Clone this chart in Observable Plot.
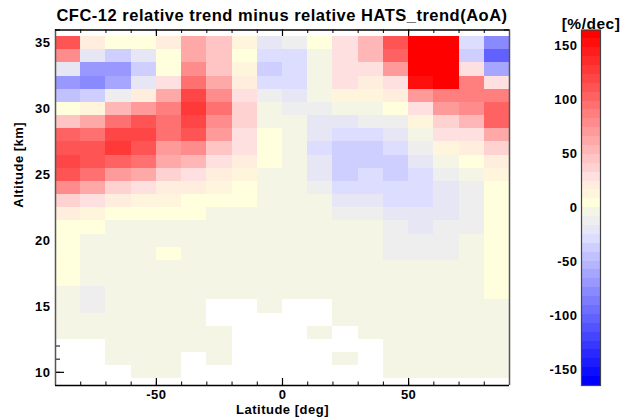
<!DOCTYPE html>
<html>
<head>
<meta charset="utf-8">
<script src="https://cdn.jsdelivr.net/npm/d3@7"></script>
<script src="https://cdn.jsdelivr.net/npm/@observablehq/plot@0.6"></script>
<style>
  body { margin: 0; background: #fff; }
  #chart { position: relative; width: 622px; height: 420px; overflow: hidden; background: #fff; }
  #chart svg { position: absolute; top: 0; overflow: visible; }
</style>
</head>
<body>
<div id="chart"></div>
<script>
// Latitude band centres (deg) and altitude levels (km, top row first)
const latitudes = [-85, -75, -65, -55, -45, -35, -25, -15, -5, 5, 15, 25, 35, 45, 55, 65, 75, 85];
const altitudes = [35, 34, 33, 32, 31, 30, 29, 28, 27, 26, 25, 24, 23, 22, 21, 20, 19, 18, 17, 16, 15, 14, 13, 12, 11, 10];

// Relative trend difference [%/dec]; null = no data
const trend = [
  [111, 21, 4, 4, 21, 61, 48, 12, -20, -12, 4, 30, 51, 111, 160, 160, -29, -80],
  [81, -20, -37, -20, 4, 61, 48, 4, -29, -29, -4, 30, 51, 101, 160, 160, -37, -100],
  [-20, -69, -69, -37, 4, 76, 48, 12, -37, -29, -4, 30, 30, 71, 160, 160, 30, -59],
  [-69, -80, -65, -20, 29, 91, 61, 21, -29, -29, -4, 27, 21, 30, 151, 160, 86, 30],
  [-45, -37, -12, 21, 61, 121, 81, 30, -12, -20, -4, 12, 12, 21, 71, 86, 86, 86],
  [4, 12, 51, 71, 86, 124, 91, 40, -4, -12, -12, -4, -4, 4, 30, 71, 76, 104],
  [48, 61, 91, 111, 91, 121, 81, 40, -4, -4, -20, -20, -12, -12, 12, 40, 51, 101],
  [101, 91, 118, 118, 91, 111, 71, 30, 4, -4, -20, -29, -29, -20, -4, 27, 30, 61],
  [114, 114, 128, 111, 71, 81, 48, 29, 4, -4, -29, -37, -37, -29, -12, 12, 21, 40],
  [118, 114, 104, 91, 61, 51, 30, 21, 4, -4, -20, -37, -37, -37, -20, -4, 4, 21],
  [111, 91, 71, 61, 40, 30, 21, 12, -4, -4, -20, -37, -29, -37, -29, -12, -4, 12],
  [76, 61, 40, 30, 21, 21, 12, 4, -4, -4, -12, -29, -29, -29, -29, -20, -12, 4],
  [40, 30, 21, 12, 12, 4, 4, 4, -4, -4, -4, -20, -20, -29, -29, -20, -12, 4],
  [21, 12, 4, 4, 4, 4, -4, -4, -4, -4, -4, -12, -12, -20, -20, -20, -12, 4],
  [4, 4, -4, -4, -4, -4, -4, -4, -4, -4, -4, -4, -4, -12, -20, -12, -12, 4],
  [4, -4, -4, -4, -4, -4, -4, -4, -4, -4, -4, -4, -4, -12, -12, -12, -4, 4],
  [4, -4, -4, -4, 4, -4, -4, -4, -4, -4, -4, -4, -4, -12, -12, -12, -4, 4],
  [4, -4, -4, -4, -4, -4, -4, -4, -4, -4, -4, -4, -4, -4, -4, -4, -4, 4],
  [4, -4, -4, -4, -4, -4, -4, -4, -4, -4, -4, -4, -4, -4, -4, -4, -4, 4],
  [-4, -12, -4, -4, -4, -4, -4, -4, -4, -4, -4, -4, -4, -4, -4, -4, -4, 4],
  [-4, -12, -4, -4, -4, -4, null, null, -4, null, null, -4, -4, -4, -4, -4, -4, -4],
  [-4, -4, -4, -4, -4, -4, null, null, null, null, null, -4, -4, -4, -4, -4, -4, -4],
  [-4, -4, -4, -4, -4, -4, -4, null, null, null, -4, null, -4, -4, -4, -4, -4, -4],
  [null, null, -4, -4, -4, -4, -4, null, null, null, null, null, null, -4, -4, -4, -4, -4],
  [null, null, -4, -4, -4, null, -4, null, null, null, null, -4, null, -4, -4, -4, -4, -4],
  [null, null, null, -4, -4, null, null, null, null, null, null, null, null, -4, -4, -4, -4, -4]
];

const latTicks = [-50, 0, 50];
const altTicks = [10, 15, 20, 25, 30, 35];
const colorbarTicks = [-150, -100, -50, 0, 50, 100, 150];

const title = "CFC-12 relative trend minus relative HATS_trend(AoA)";
const xLabel = "Latitude [deg]";
const yLabel = "Altitude [km]";
const unitLabel = "[%/dec]";

// ---- colour table: 40 discrete levels, blue - grey/yellow - red ----
const colorLimit = 165;
const nLevels = 40;
const half = nLevels / 2;
function levelColor(k, positive) {
  if (positive) {
    if (k === 0) return "#ffffdd";
    if (k === 1) return "#fff5dd";
    if (k === 2) return "#ffeedd";
    const c = Math.round(224 * (half - 1 - k) / (half - 4));
    return `rgb(255,${c},${c})`;
  }
  if (k === 0) return "#f5f5e5";
  if (k === 1) return "#eeeeee";
  if (k === 2) return "#e6e6f5";
  const c = Math.round(221 * (half - 1 - k) / (half - 4));
  return `rgb(${c},${c},255)`;
}
const step = 2 * colorLimit / nLevels;
const thresholds = d3.range(1, nLevels).map(i => -colorLimit + i * step);
const palette = d3.range(nLevels).map(i => i < half ? levelColor(half - 1 - i, false) : levelColor(i - half, true));
const colorScale = {type: "threshold", domain: thresholds, range: palette};

// ---- layout ----
const W = 622, H = 420;
const mL = 55, mR = 113, mT = 29.5, mB = 35;
const xDomain = [-90, 90];
const yDomain = [9, 36];
const kmPx = (H - mT - mB) / (yDomain[1] - yDomain[0]);
const degPx = (W - mL - mR) / (xDomain[1] - xDomain[0]);
const font = "'Liberation Sans', Arial, Helvetica, sans-serif";

const cells = altitudes.flatMap((alt, r) =>
  latitudes.map((lat, c) => ({lat, alt, value: trend[r][c]}))
).filter(d => d.value !== null);

const minorLat = d3.range(xDomain[0], xDomain[1] + 1, 10);
const minorAlt = d3.range(yDomain[0], yDomain[1] + 1, 1);

const textStyle = {fontFamily: font, fontWeight: "bold", fill: "#000"};
const svgStyle = {background: "transparent", fontFamily: font, letterSpacing: "0.5px", overflow: "visible"};

const main = Plot.plot({
  width: W,
  height: H,
  marginLeft: mL,
  marginRight: mR,
  marginTop: mT,
  marginBottom: mB,
  style: svgStyle,
  x: {domain: xDomain, axis: null},
  y: {domain: yDomain, axis: null},
  color: colorScale,
  marks: [
    // inward ticks on all four sides (cells are drawn over them)
    Plot.ruleX(minorLat, {x: d => d, y1: yDomain[0], y2: yDomain[0] + 3.5 / kmPx, stroke: "#000", strokeWidth: 1}),
    Plot.ruleX(latTicks, {x: d => d, y1: yDomain[0], y2: yDomain[0] + 7 / kmPx, stroke: "#000", strokeWidth: 1.2}),
    Plot.ruleX(minorLat, {x: d => d, y1: yDomain[1], y2: yDomain[1] - 3.5 / kmPx, stroke: "#000", strokeWidth: 1}),
    Plot.ruleX(latTicks, {x: d => d, y1: yDomain[1], y2: yDomain[1] - 7 / kmPx, stroke: "#000", strokeWidth: 1.2}),
    Plot.ruleY(minorAlt, {y: d => d, x1: xDomain[0], x2: xDomain[0] + 5 / degPx, stroke: "#000", strokeWidth: 1}),
    Plot.ruleY(altTicks, {y: d => d, x1: xDomain[0], x2: xDomain[0] + 9 / degPx, stroke: "#000", strokeWidth: 1.2}),
    Plot.ruleY(minorAlt, {y: d => d, x1: xDomain[1], x2: xDomain[1] - 5 / degPx, stroke: "#000", strokeWidth: 1}),
    Plot.ruleY(altTicks, {y: d => d, x1: xDomain[1], x2: xDomain[1] - 9 / degPx, stroke: "#000", strokeWidth: 1.2}),
    // gridded field
    Plot.rect(cells, {
      x1: d => d.lat - 5, x2: d => d.lat + 5,
      y1: d => d.alt - 0.5, y2: d => d.alt + 0.5,
      fill: "value",
      shapeRendering: "crispEdges"
    }),
    // plot box
    Plot.ruleX([xDomain[0], xDomain[1]], {x: d => d, stroke: "#555", strokeWidth: 1.5}),
    Plot.ruleY([yDomain[0], yDomain[1]], {y: d => d, stroke: "#000", strokeWidth: 1.6}),
    // tick labels
    Plot.text(latTicks, {x: d => d, text: d => String(d), frameAnchor: "bottom", dy: 13, fontSize: 13, ...textStyle}),
    Plot.text(altTicks, {y: d => d, text: d => String(d), frameAnchor: "left", dx: -5, textAnchor: "end", fontSize: 13, ...textStyle}),
    // axis titles
    Plot.text([xLabel], {text: d => d, frameAnchor: "bottom", dy: 28, fontSize: 13, ...textStyle}),
    Plot.text([yLabel], {text: d => d, frameAnchor: "left", dx: -37, rotate: -90, fontSize: 13, ...textStyle})
  ]
});
main.style.left = "0px";

// ---- colour bar ----
const cbLeft = 540;
const bands = d3.range(nLevels).map(i => ({lo: -colorLimit + i * step, hi: -colorLimit + (i + 1) * step}));
const colorbar = Plot.plot({
  width: W - cbLeft,
  height: H,
  marginLeft: 41,
  marginRight: 22,
  marginTop: mT,
  marginBottom: mB,
  style: svgStyle,
  y: {domain: [-colorLimit, colorLimit], axis: null},
  color: colorScale,
  marks: [
    Plot.rect(bands, {y1: "lo", y2: "hi", fill: d => (d.lo + d.hi) / 2, shapeRendering: "crispEdges"}),
    Plot.frame({stroke: "#444", strokeWidth: 1.2}),
    Plot.text(colorbarTicks, {y: d => d, text: d => String(d), frameAnchor: "left", dx: -4, textAnchor: "end", fontSize: 13, ...textStyle}),
    Plot.text([unitLabel], {text: d => d, frameAnchor: "top", dy: -12, fontSize: 15.5, ...textStyle})
  ]
});
colorbar.style.left = cbLeft + "px";

// chart title, centred over the plot area
const heading = document.createElement("div");
heading.textContent = title;
Object.assign(heading.style, {
  position: "absolute", left: mL + "px", width: (W - mL - mR) + "px", top: "5px",
  textAlign: "center", font: `bold 16.5px ${font}`, letterSpacing: "0.5px",
  lineHeight: "20px", color: "#000", whiteSpace: "nowrap"
});

const chart = document.getElementById("chart");
chart.append(main, colorbar, heading);
</script>
</body>
</html>
